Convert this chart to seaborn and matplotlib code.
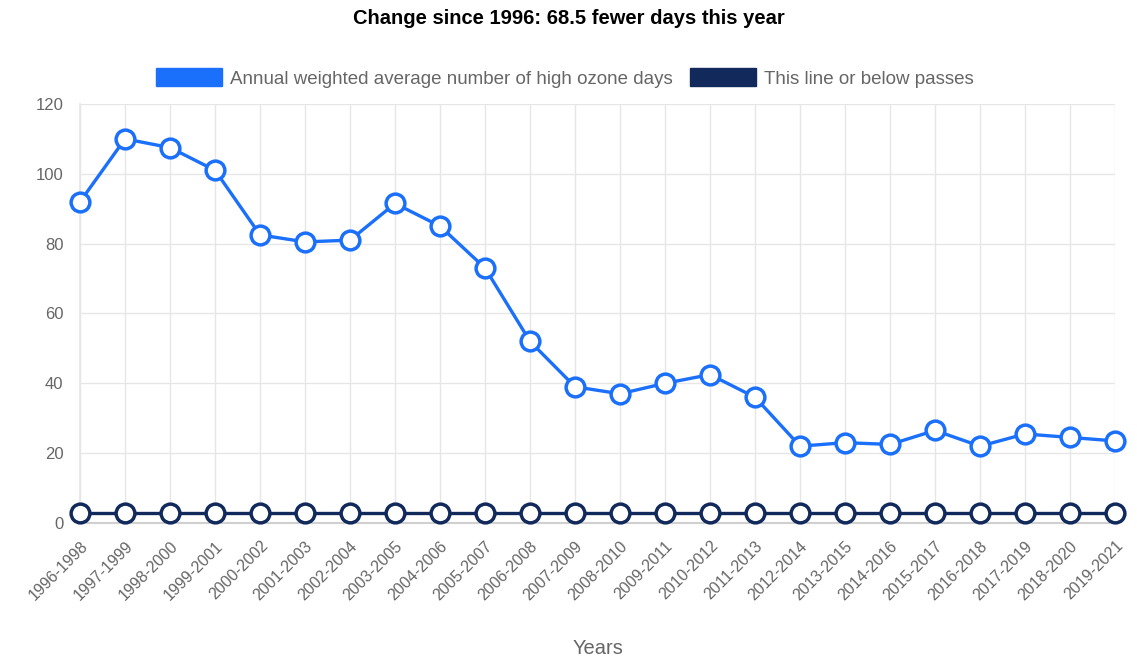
import matplotlib
matplotlib.use("Agg")
import matplotlib.pyplot as plt
import seaborn as sns
import pandas as pd
from matplotlib.patches import Patch

periods = ["1996-1998", "1997-1999", "1998-2000", "1999-2001", "2000-2002", "2001-2003",
           "2002-2004", "2003-2005", "2004-2006", "2005-2007", "2006-2008", "2007-2009",
           "2008-2010", "2009-2011", "2010-2012", "2011-2013", "2012-2014", "2013-2015",
           "2014-2016", "2015-2017", "2016-2018", "2017-2019", "2018-2020", "2019-2021"]
high_ozone_days = [92, 110, 107.5, 101, 82.5, 80.5, 81, 91.5, 85, 73, 52, 39,
                   37, 40, 42.5, 36, 22, 23, 22.5, 26.5, 22, 25.5, 24.5, 23.5]
pass_line = [3] * len(periods)
y_ticks = [0, 20, 40, 60, 80, 100, 120]

blue = "#1a6ffb"
navy = "#12295c"

sns.set_theme(style="white")
plt.rcParams["font.family"] = ["Liberation Sans", "DejaVu Sans"]

df = pd.DataFrame({"period": periods, "ozone": high_ozone_days, "pass": pass_line})

fig = plt.figure(figsize=(11.37, 6.61), dpi=100)
ax = fig.add_axes([0.0704, 0.2088, 0.9103, 0.6339])

common = dict(marker="o", markersize=13.5, markerfacecolor="white",
              markeredgewidth=2.5, linewidth=2.4, sort=False, clip_on=False, zorder=3)
sns.lineplot(data=df, x="period", y="pass", ax=ax, color=navy,
             markeredgecolor=navy, **common)
sns.lineplot(data=df, x="period", y="ozone", ax=ax, color=blue,
             markeredgecolor=blue, **common)

ax.set_xlim(0, len(periods) - 1)
ax.set_ylim(0, 120)
ax.set_yticks(y_ticks)
ax.set_yticklabels([str(v) for v in y_ticks], color="#666666", fontsize=12)
ax.set_xticks(range(len(periods)))
ax.set_xticklabels(periods, rotation=45, ha="right", rotation_mode="anchor",
                   color="#666666", fontsize=11.5)
ax.tick_params(axis="x", length=8, color="#e6e6e6", pad=3)
ax.tick_params(axis="y", length=8, color="#e6e6e6", pad=4)
ax.grid(True, color="#e6e6e6", linewidth=1)
ax.set_axisbelow(True)
for side in ["top", "right"]:
    ax.spines[side].set_visible(False)
ax.spines["left"].set_color("#e6e6e6")
ax.spines["bottom"].set_color("#d0d0d0")
ax.spines["bottom"].set_linewidth(1.5)

ax.set_xlabel("Years", color="#666666", fontsize=14.5, labelpad=26)
ax.set_ylabel("")

fig.text(0.5, 0.972, "Change since 1996: 68.5 fewer days this year",
         ha="center", va="center", fontsize=14.5, fontweight="bold", color="black")

handles = [Patch(facecolor=blue, edgecolor=blue),
           Patch(facecolor=navy, edgecolor=navy)]
labels = ["Annual weighted average number of high ozone days", "This line or below passes"]
leg = fig.legend(handles, labels, loc="center", bbox_to_anchor=(0.497, 0.882),
                 ncol=2, frameon=False, fontsize=13.5, handlelength=3.5, handleheight=1.05,
                 handletextpad=0.45, columnspacing=0.9)
for t in leg.get_texts():
    t.set_color("#666666")

fig.savefig("out.png", dpi=100)
